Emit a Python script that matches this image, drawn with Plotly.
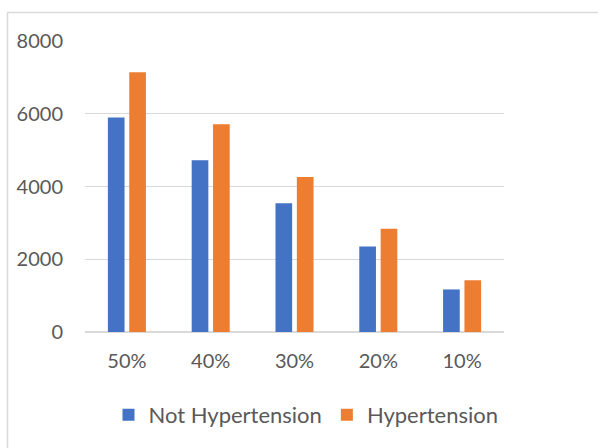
import plotly.graph_objects as go

# Share levels on the category axis
categories = ["50%", "40%", "30%", "20%", "10%"]

# Counts per group
not_hypertension = [5900, 4720, 3540, 2350, 1170]
hypertension = [7140, 5710, 4260, 2840, 1420]

y_ticks = [0, 2000, 4000, 6000, 8000]

W, H = 598, 448
L, R, T, B = 85, 94, 41, 116
pw, ph = W - L - R, H - T - B

FONT = "Lato, sans-serif"
TXT = "#595959"

fig = go.Figure()
fig.add_trace(go.Bar(x=categories, y=not_hypertension, name="Not Hypertension",
                     marker=dict(color="#4472C4", line=dict(width=0))))
fig.add_trace(go.Bar(x=categories, y=hypertension, name="Hypertension",
                     marker=dict(color="#ED7D31", line=dict(width=0))))

# outer chart frame (top and left edges visible)
fig.add_shape(type="rect", xref="paper", yref="paper",
              x0=(7.5 - L) / pw, x1=(W + 20 - L) / pw,
              y0=-(B + 20) / ph, y1=(H - B - 12.5) / ph,
              line=dict(color="#d9d9d9", width=1.5), fillcolor="rgba(0,0,0,0)",
              layer="below")

fig.update_layout(
    width=W, height=H,
    margin=dict(l=L, r=R, t=T, b=B),
    paper_bgcolor="white", plot_bgcolor="white",
    barmode="group", bargap=0.49, bargroupgap=0.22,
    font=dict(family=FONT, size=20, color=TXT),
    showlegend=True,
    legend=dict(orientation="h", x=(306 - L) / pw, xanchor="center", y=-(415 - 332) / ph,
                yanchor="middle", font=dict(family=FONT, size=22, color=TXT),
                itemwidth=30, traceorder="normal"),
    xaxis=dict(showgrid=False, showline=False, ticks="", ticklabelstandoff=15,
               tickfont=dict(family=FONT, size=20, color=TXT)),
    yaxis=dict(range=[0, 8000], tickvals=y_ticks, showgrid=True, gridcolor="#d9d9d9",
               gridwidth=1.3, zeroline=True, zerolinecolor="#d9d9d9", zerolinewidth=1.5,
               showline=False, ticks="", ticklabelstandoff=21,
               tickfont=dict(family=FONT, size=20, color=TXT)),
)

fig.write_html("out.html")
